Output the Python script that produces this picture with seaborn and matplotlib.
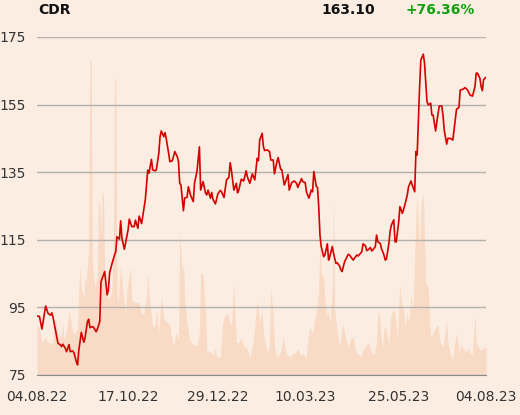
import pandas as pd
import seaborn as sns
from matplotlib import pyplot as plt
import matplotlib.dates as mdates

# price trace, day offsets from 04.08.22
price_day = [0, 2, 4, 7, 9, 11, 12, 13, 15, 17, 19, 20, 21, 23, 24, 26, 27, 29, 30, 32,
             33, 34, 36, 38, 39, 41, 42, 43, 45, 46, 48, 49, 51, 52, 53, 55, 57, 58, 59, 61,
             63, 64, 65, 67, 68, 69, 71, 74, 75, 77, 79, 80, 82, 83, 85, 86, 88, 90, 91, 93,
             94, 96, 97, 99, 100, 101, 103, 104, 105, 107, 108, 110, 112, 114, 115, 116, 117, 119, 120, 122,
             123, 125, 127, 128, 130, 132, 133, 135, 137, 138, 139, 141, 142, 143, 145, 147, 149, 150, 152, 154,
             156, 157, 158, 160, 162, 163, 164, 166, 168, 170, 171, 173, 175, 176, 177, 179, 180, 181, 183, 184,
             185, 187, 189, 190, 192, 193, 195, 196, 198, 199, 201, 202, 204, 205, 207, 209, 211, 212, 214, 215,
             216, 218, 219, 221, 223, 224, 225, 227, 228, 229, 230, 231, 233, 234, 236, 237, 238, 240, 241, 243,
             244, 246, 247, 248, 250, 252, 253, 254, 256, 257, 258, 260, 261, 263, 264, 265, 267, 268, 269, 271,
             272, 273, 275, 276, 277, 279, 280, 282, 283, 284, 286, 287, 288, 290, 291, 292, 294, 295, 297, 299,
             301, 302, 304, 305, 307, 308, 309, 310, 311, 312, 314, 315, 316, 317, 318, 320, 321, 322, 324, 326,
             327, 329, 330, 331, 333, 334, 336, 338, 340, 341, 343, 344, 346, 348, 350, 352, 354, 356, 357, 358,
             360, 361, 362, 363, 365]
price = [92.5, 92.3, 88.6, 95.4, 93.2, 92.7, 93.4, 92.1, 88.3, 84.4, 83.9, 83.4, 84.1, 82.9, 81.9, 84.0, 81.9, 82.1, 81.6, 78.9,
         78.0, 82.4, 87.6, 84.7, 85.9, 90.8, 91.5, 89.0, 89.3, 89.1, 87.8, 88.5, 90.8, 102.6, 103.6, 105.6, 98.7, 100.2, 105.2, 108.0,
         110.5, 111.5, 115.9, 115.2, 120.6, 115.5, 112.2, 117.9, 121.1, 118.9, 118.9, 120.8, 118.4, 122.0, 119.8, 122.2, 126.8, 135.6, 134.7, 138.8,
         135.7, 135.4, 135.7, 140.6, 145.5, 147.2, 145.5, 146.7, 145.0, 140.6, 138.1, 138.4, 141.1, 139.6, 138.1, 131.7, 131.2, 123.6, 127.3, 127.6,
         130.7, 128.0, 126.3, 131.7, 135.2, 142.5, 129.7, 132.2, 128.8, 128.3, 129.7, 127.3, 129.0, 127.0, 125.6, 128.6, 129.6, 129.2, 127.5, 132.7,
         133.5, 137.8, 135.6, 129.7, 131.7, 128.9, 129.7, 132.9, 132.4, 135.4, 133.6, 131.7, 134.5, 133.6, 132.7, 139.1, 138.4, 144.5, 146.5, 142.6,
         141.4, 141.6, 141.1, 138.6, 138.6, 134.5, 138.1, 139.3, 135.9, 135.7, 131.2, 132.2, 134.3, 129.7, 131.9, 132.4, 131.7, 130.5, 132.2, 133.1,
         132.2, 131.9, 129.2, 127.3, 129.7, 129.2, 135.2, 130.8, 130.5, 124.8, 116.4, 113.0, 110.0, 110.5, 113.8, 109.0, 110.0, 113.0, 111.0, 108.0,
         108.2, 107.2, 106.1, 105.6, 108.5, 110.0, 110.7, 110.5, 109.5, 109.0, 109.5, 110.5, 110.2, 111.0, 111.5, 113.8, 113.2, 111.8, 112.0, 112.7,
         111.7, 112.0, 113.0, 116.4, 114.4, 113.9, 112.4, 110.5, 109.0, 109.2, 113.9, 117.4, 119.3, 120.9, 114.4, 114.4, 120.3, 124.8, 122.8, 125.3,
         128.3, 130.7, 132.4, 131.2, 129.2, 141.1, 140.1, 150.4, 160.3, 168.2, 169.9, 167.2, 161.3, 155.9, 154.9, 155.4, 151.9, 151.9, 147.2, 152.4,
         154.6, 154.6, 151.9, 147.5, 143.3, 145.0, 145.0, 144.5, 150.4, 153.6, 154.2, 159.3, 159.5, 160.0, 159.3, 157.8, 157.5, 160.3, 164.3, 164.3,
         162.8, 160.3, 159.1, 162.4, 163.1]

# volume trace (thousand shares)
vol_day = [0, 2, 4, 5, 7, 8, 11, 13, 14, 15, 17, 19, 21, 22, 24, 26, 28, 29, 31, 33,
           34, 35, 36, 38, 39, 40, 42, 43, 44, 45, 47, 49, 50, 51, 52, 53, 54, 55, 56, 58,
           60, 61, 62, 63, 64, 65, 66, 68, 70, 72, 73, 76, 77, 80, 81, 83, 85, 87, 89, 90,
           92, 94, 96, 97, 99, 101, 103, 105, 108, 109, 111, 113, 115, 116, 118, 119, 120, 122, 124, 127,
           130, 132, 133, 135, 137, 138, 141, 143, 145, 146, 149, 151, 153, 155, 156, 158, 160, 161, 162, 164,
           166, 168, 170, 172, 173, 175, 177, 179, 181, 183, 184, 186, 188, 189, 190, 192, 193, 195, 198, 200,
           202, 203, 206, 208, 210, 212, 214, 216, 219, 221, 222, 224, 226, 227, 229, 230, 231, 233, 234, 236,
           237, 238, 240, 241, 242, 244, 246, 248, 249, 250, 252, 253, 255, 257, 259, 260, 263, 265, 267, 269,
           270, 272, 274, 276, 277, 278, 280, 281, 282, 284, 286, 287, 288, 290, 291, 293, 294, 295, 296, 298,
           299, 301, 302, 303, 304, 305, 306, 308, 309, 311, 312, 314, 316, 318, 319, 320, 322, 324, 326, 327,
           328, 330, 333, 334, 336, 338, 339, 341, 342, 343, 345, 346, 347, 349, 350, 352, 353, 354, 356, 357,
           359, 360, 361, 363, 364, 365]
volume = [490, 470, 320, 330, 380, 330, 320, 310, 550, 550, 430, 350, 510, 350, 450, 640, 520, 420, 420, 480,
          880, 1080, 850, 780, 970, 930, 1250, 3170, 3150, 1100, 880, 970, 1750, 1700, 1400, 1840, 1800, 1000, 900, 750,
          800, 900, 1200, 2990, 2900, 800, 720, 1100, 820, 600, 850, 1080, 750, 720, 730, 720, 600, 630, 780, 1030,
          680, 480, 500, 650, 420, 800, 570, 530, 500, 400, 280, 430, 350, 1430, 1020, 1120, 750, 520, 350, 300,
          300, 430, 1030, 1000, 620, 250, 230, 200, 280, 180, 180, 520, 600, 620, 550, 500, 930, 580, 320, 330,
          370, 280, 280, 220, 170, 280, 480, 750, 520, 650, 420, 280, 220, 350, 880, 580, 280, 180, 230, 380,
          250, 200, 180, 220, 220, 260, 200, 210, 180, 450, 470, 420, 580, 620, 850, 1420, 1000, 980, 750, 580,
          650, 520, 850, 1780, 650, 420, 280, 480, 500, 420, 320, 270, 370, 380, 250, 220, 180, 250, 280, 330,
          300, 220, 200, 320, 620, 620, 350, 280, 480, 450, 280, 520, 620, 650, 620, 350, 680, 920, 750, 630,
          480, 620, 520, 620, 820, 620, 750, 1580, 1780, 1200, 1700, 1820, 920, 880, 580, 380, 420, 480, 500, 380,
          320, 280, 550, 320, 220, 150, 280, 420, 350, 220, 320, 270, 250, 230, 270, 220, 220, 210, 600, 320,
          280, 250, 250, 270, 290, 280]

start = pd.Timestamp("2022-08-04")
df_p = pd.DataFrame({"date": start + pd.to_timedelta(price_day, unit="D"), "price": price})
df_v = pd.DataFrame({"date": start + pd.to_timedelta(vol_day, unit="D"), "volume": volume})

tick_labels = ["04.08.22", "17.10.22", "29.12.22", "10.03.23", "25.05.23", "04.08.23"]
tick_dates = pd.to_datetime(tick_labels, format="%d.%m.%y")

bg = "#fbede2"
sns.set_style("white")
plt.rcParams["font.family"] = ["DejaVu Sans"]

fig = plt.figure(figsize=(5.2, 4.15), dpi=100, facecolor=bg)
ax = fig.add_axes([0.0712, 0.0964, 0.8635, 0.8145])
ax.set_facecolor(bg)

# volume behind price
axv = ax.twinx()
axv.fill_between(df_v["date"], df_v["volume"], color="#f8dac5", lw=0)
axv.set_ylim(0, 3380)
axv.axis("off")
ax.set_zorder(axv.get_zorder() + 1)
ax.patch.set_visible(False)
axv.patch.set_facecolor(bg)
axv.patch.set_visible(True)

sns.lineplot(data=df_p, x="date", y="price", ax=ax, color="#d40000", lw=1.2)

ax.set_ylim(75, 175)
ax.set_yticks([75, 95, 115, 135, 155, 175])
ax.set_xlim(start, pd.Timestamp("2023-08-04"))
axv.set_xlim(start, pd.Timestamp("2023-08-04"))
ax.set_xticks(tick_dates)
ax.set_xticklabels(tick_labels)
ax.grid(axis="y", color="#b4b0ac", lw=1)
ax.set_xlabel("")
ax.set_ylabel("")
for s in ["left", "right", "top"]:
    ax.spines[s].set_visible(False)
ax.spines["bottom"].set_color("#8c8c8c")
ax.tick_params(axis="y", length=0, pad=8, labelsize=10, labelcolor="#333333")
ax.tick_params(axis="x", length=6, color="#8c8c8c", labelsize=10, labelcolor="#333333", pad=5)

fig.text(0.073, 0.975, "CDR", fontsize=10, fontweight="bold", va="center", color="#111111")
fig.text(0.722, 0.975, "163.10", fontsize=10, fontweight="bold", va="center", ha="right", color="#111111")
fig.text(0.913, 0.975, "+76.36%", fontsize=10, fontweight="bold", va="center", ha="right", color="#11a011")

fig.savefig("out.png", dpi=100, facecolor=bg)
